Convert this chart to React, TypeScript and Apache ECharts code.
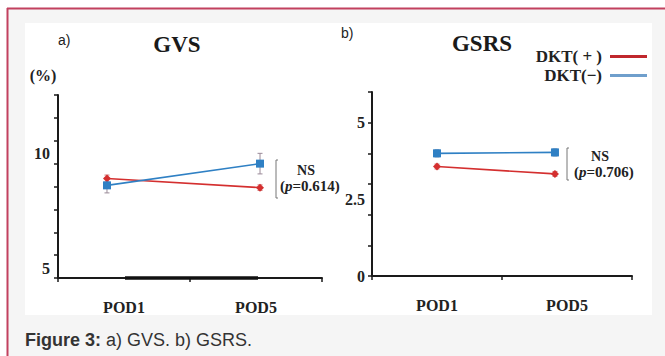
import React, { useEffect, useRef } from "react";
import * as echarts from "echarts";

const categories = ["POD1", "POD5"];
const gvsPlus = [9.35, 8.95];
const gvsPlusErr = [0.15, 0.12];
const gvsMinus = [9.05, 10.0];
const gvsMinusErr = [0.33, 0.45];
const gsrsPlus = [3.57, 3.33];
const gsrsPlusErr = [0.08, 0.08];
const gsrsMinus = [4.0, 4.03];
const gsrsMinusErr = [0.12, 0.12];
const gvsLabels = [5, 10];
const gsrsLabels = [0, 2.5, 5];

const RED = "#d42f2f";
const BLUE = "#2f80c4";
const SERIF = "'Liberation Serif', 'Times New Roman', serif";
const SANS = "'Liberation Sans', Arial, sans-serif";

function pts(vals: number[]) {
  return vals.map((v, i) => [i, v]);
}

function errData(vals: number[], errs: number[]) {
  return vals.map((v, i) => [i, v - errs[i], v + errs[i]]);
}

function errSeries(name: string, xi: number, yi: number, vals: number[], errs: number[], color: string) {
  return {
    type: "custom",
    name: name + "-err",
    xAxisIndex: xi,
    yAxisIndex: yi,
    z: 1,
    silent: true,
    data: errData(vals, errs),
    renderItem: (params: any, api: any) => {
      const x = api.value(0);
      const lo = api.coord([x, api.value(1)]);
      const hi = api.coord([x, api.value(2)]);
      const st = { stroke: color, lineWidth: 1 };
      return {
        type: "group",
        children: [
          { type: "line", shape: { x1: lo[0], y1: lo[1], x2: hi[0], y2: hi[1] }, style: st },
          { type: "line", shape: { x1: lo[0] - 2.5, y1: lo[1], x2: lo[0] + 2.5, y2: lo[1] }, style: st },
          { type: "line", shape: { x1: hi[0] - 2.5, y1: hi[1], x2: hi[0] + 2.5, y2: hi[1] }, style: st },
        ],
      };
    },
  };
}

function lineSeries(name: string, xi: number, yi: number, vals: number[], color: string, symbol: string, size: number) {
  return {
    type: "line",
    name,
    xAxisIndex: xi,
    yAxisIndex: yi,
    data: pts(vals),
    z: 3,
    symbol,
    symbolSize: size,
    lineStyle: { color, width: 1.6 },
    itemStyle: { color },
  };
}

export default function App() {
  const ref = useRef<HTMLDivElement>(null);
  useEffect(() => {
    if (!ref.current) return;
    const chart = echarts.init(ref.current, undefined, { renderer: "svg" });
    const axisLine = { show: true, onZero: false, lineStyle: { color: "#1a1a1a", width: 2 } };
    const axisTick = { show: true, inside: false, length: 4, lineStyle: { color: "#1a1a1a", width: 1.5 } };
    const lbl = { fontFamily: SERIF, fontWeight: "bold", fontSize: 16, color: "#222" };
    const rich = { i: { fontStyle: "italic", fontWeight: "bold", fontSize: 15, fontFamily: SERIF, fill: "#222" } };
    const hiddenX = (gi: number, min: number, max: number) => ({
      type: "value", gridIndex: gi, min, max, show: false,
      axisLine: { show: false, onZero: false }, axisTick: { show: false }, axisLabel: { show: false }, splitLine: { show: false },
    });
    const option: any = {
      animation: false,
      backgroundColor: "#ffffff",
      graphic: [
        { type: "rect", shape: { x: 7, y: 8, width: 660, height: 350 }, style: { fill: "#f5f5f5" }, z: -10 },
        { type: "line", shape: { x1: 7, y1: 8.5, x2: 665, y2: 8.5 }, style: { stroke: "#c2415f", lineWidth: 2 }, z: -9 },
        { type: "line", shape: { x1: 7.5, y1: 8, x2: 7.5, y2: 356 }, style: { stroke: "#c2415f", lineWidth: 2 }, z: -9 },
        { type: "rect", shape: { x: 25, y: 23, width: 627, height: 292 }, style: { fill: "#ffffff" }, z: -8 },
        { type: "text", x: 58, y: 40, style: { text: "a)", font: "14px " + SANS, fill: "#222", verticalAlign: "middle" } },
        { type: "text", x: 341, y: 33, style: { text: "b)", font: "14px " + SANS, fill: "#222", verticalAlign: "middle" } },
        { type: "text", x: 177, y: 44, style: { text: "GVS", font: "bold 23px " + SERIF, fill: "#1a1a1a", align: "center", verticalAlign: "middle" } },
        { type: "text", x: 482, y: 43, style: { text: "GSRS", font: "bold 23px " + SERIF, fill: "#1a1a1a", align: "center", verticalAlign: "middle" } },
        { type: "text", x: 43, y: 75, style: { text: "(%)", font: "bold 16px " + SERIF, fill: "#222", align: "center", verticalAlign: "middle" } },
        { type: "line", shape: { x1: 125, y1: 278, x2: 258, y2: 278 }, style: { stroke: "#111", lineWidth: 3.5 }, z: 5 },
        { type: "polyline", shape: { points: [[278, 160], [276, 160], [276, 198], [278, 198]] }, style: { stroke: "#777", lineWidth: 1, fill: "none" } },
        { type: "text", x: 306, y: 170, style: { text: "NS", font: "bold 14px " + SERIF, fill: "#222", align: "center", verticalAlign: "middle" } },
        {
          type: "text", x: 280, y: 186,
          style: { text: "({i|p}=0.614)", font: "bold 15px " + SERIF, fill: "#222", verticalAlign: "middle", rich },
        },
        { type: "polyline", shape: { points: [[569, 148], [567, 148], [567, 180], [569, 180]] }, style: { stroke: "#777", lineWidth: 1, fill: "none" } },
        { type: "text", x: 600, y: 156, style: { text: "NS", font: "bold 14px " + SERIF, fill: "#222", align: "center", verticalAlign: "middle" } },
        {
          type: "text", x: 574, y: 172,
          style: { text: "({i|p}=0.706)", font: "bold 15px " + SERIF, fill: "#222", verticalAlign: "middle", rich },
        },
        {
          type: "text", x: 25, y: 340,
          style: {
            text: "{b|Figure 3:} a) GVS. b) GSRS.", font: "18px " + SANS, fill: "#333", verticalAlign: "middle",
            rich: { b: { fontWeight: "bold", fontSize: 18, fontFamily: SANS, fill: "#333" } },
          },
        },
      ],
      legend: {
        data: [
          { name: "DKT( + )", icon: "rect", itemStyle: { color: "#c0272d" } },
          { name: "DKT(−)", icon: "rect", itemStyle: { color: "#6f9fcc" } },
        ],
        orient: "vertical",
        right: 18,
        top: 47,
        padding: 0,
        align: "right",
        itemWidth: 37,
        itemHeight: 3,
        itemGap: 0,
        textStyle: { fontFamily: SERIF, fontWeight: "bold", fontSize: 17, lineHeight: 19, color: "#222", padding: [0, 3, 0, 0] },
        selectedMode: false,
      },
      grid: [
        { left: 58, top: 95, width: 264, height: 183 },
        { left: 372, top: 92, width: 260, height: 184 },
      ],
      xAxis: [
        { type: "category", gridIndex: 0, data: categories, boundaryGap: true, axisLine, axisTick, axisLabel: { ...lbl, margin: 21 }, splitLine: { show: false } },
        { type: "category", gridIndex: 1, data: categories, boundaryGap: true, axisLine, axisTick, axisLabel: { ...lbl, margin: 21 }, splitLine: { show: false } },
        hiddenX(0, -0.32, 1.405),
        hiddenX(1, -0.551, 1.653),
      ],
      yAxis: [
        {
          type: "value", gridIndex: 0, min: 5, max: 13, interval: 1, position: "left",
          axisLine, axisTick, splitLine: { show: false },
          axisLabel: { ...lbl, margin: 8, verticalAlign: "bottom", padding: [0, 0, 2, 0], formatter: (v: number) => (gvsLabels.includes(v) ? String(v) : "") },
        },
        {
          type: "value", gridIndex: 1, min: 0, max: 6, interval: 1, position: "left",
          axisLine, axisTick, splitLine: { show: false }, axisLabel: { show: false },
        },
        {
          type: "value", gridIndex: 1, min: 0, max: 6, interval: 2.5, position: "left", offset: 0,
          axisLine: { show: false, onZero: false }, axisTick: { show: false }, splitLine: { show: false },
          axisLabel: { ...lbl, margin: 7, formatter: (v: number) => (gsrsLabels.includes(v) ? String(v) : "") },
        },
      ],
      series: [
        errSeries("gvs-plus", 2, 0, gvsPlus, gvsPlusErr, "#c77"),
        errSeries("gvs-minus", 2, 0, gvsMinus, gvsMinusErr, "#9a8a98"),
        errSeries("gsrs-plus", 3, 1, gsrsPlus, gsrsPlusErr, "#c77"),
        errSeries("gsrs-minus", 3, 1, gsrsMinus, gsrsMinusErr, "#8aa0c0"),
        lineSeries("DKT( + )", 2, 0, gvsPlus, RED, "diamond", 8),
        lineSeries("DKT(−)", 2, 0, gvsMinus, BLUE, "rect", 8),
        lineSeries("DKT( + )", 3, 1, gsrsPlus, RED, "diamond", 8),
        lineSeries("DKT(−)", 3, 1, gsrsMinus, BLUE, "rect", 8),
      ],
    };
    chart.setOption(option);
    return () => chart.dispose();
  }, []);
  return <div ref={ref} style={{ position: "fixed", left: 0, top: 0, width: 665, height: 356 }} />;
}
